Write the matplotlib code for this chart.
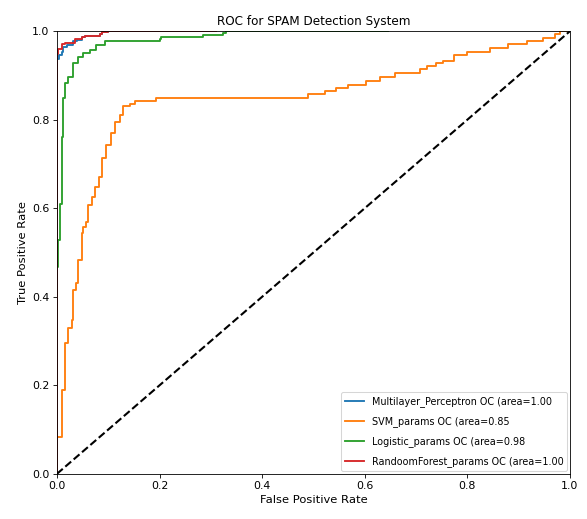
import matplotlib
matplotlib.use("Agg")
import matplotlib.pyplot as plt

# ROC points
mlp_fpr = [0.0, 0.0, 0.004, 0.009, 0.012, 0.019, 0.029, 0.032, 0.040, 0.048, 0.055, 0.084, 0.087, 0.10, 0.25]
mlp_tpr = [0.0, 0.937, 0.945, 0.953, 0.964, 0.968, 0.968, 0.977, 0.980, 0.986, 0.990, 0.994, 0.997, 1.0, 1.0]

svm_fpr = [0.0, 0.0, 0.001, 0.009, 0.016, 0.016, 0.022, 0.029, 0.032, 0.037, 0.042, 0.048,
           0.051, 0.057, 0.061, 0.068, 0.074, 0.082, 0.087, 0.096, 0.105, 0.113, 0.123,
           0.129, 0.142, 0.152, 0.194, 0.49, 0.522, 0.544, 0.568, 0.603, 0.63, 0.659,
           0.708, 0.721, 0.739, 0.753, 0.773, 0.799, 0.844, 0.88, 0.916, 0.948, 0.971,
           0.98, 1.0]
svm_tpr = [0.0, 0.016, 0.084, 0.19, 0.194, 0.296, 0.33, 0.348, 0.415, 0.43, 0.483, 0.544,
           0.558, 0.569, 0.607, 0.625, 0.648, 0.67, 0.713, 0.743, 0.77, 0.795, 0.81,
           0.831, 0.835, 0.843, 0.85, 0.858, 0.865, 0.871, 0.878, 0.887, 0.896, 0.906,
           0.914, 0.921, 0.927, 0.933, 0.947, 0.953, 0.963, 0.97, 0.978, 0.985, 0.994,
           1.0, 1.0]

lr_fpr = [0.0, 0.0, 0.003, 0.006, 0.009, 0.011, 0.016, 0.022, 0.032, 0.042, 0.051, 0.064,
          0.077, 0.094, 0.2, 0.203, 0.285, 0.324, 0.33, 0.645]
lr_tpr = [0.0, 0.468, 0.528, 0.61, 0.761, 0.848, 0.882, 0.897, 0.927, 0.942, 0.95, 0.957,
          0.968, 0.978, 0.983, 0.987, 0.991, 0.996, 1.0, 1.0]

rf_fpr = [0.0, 0.0, 0.002, 0.009, 0.016, 0.033, 0.035, 0.048, 0.055, 0.084, 0.087, 0.10, 0.31]
rf_tpr = [0.0, 0.949, 0.96, 0.971, 0.974, 0.974, 0.982, 0.986, 0.99, 0.994, 0.997, 1.0, 1.0]

names = ["Multilayer_Perceptron", "SVM_params", "Logistic_params", "RandoomForest_params"]
areas = [1.00, 0.85, 0.98, 1.00]

fig = plt.figure(figsize=(587 / 75, 519 / 75), dpi=75)
ax = fig.add_axes([0.097, 0.087, 0.874, 0.853])

curves = [(mlp_fpr, mlp_tpr), (svm_fpr, svm_tpr), (lr_fpr, lr_tpr), (rf_fpr, rf_tpr)]
for (f, t), n, a in zip(curves, names, areas):
    ax.plot(f, t, lw=1.8, drawstyle="steps-post", label="%s OC (area=%0.2f" % (n, a))

ax.plot([0, 1], [0, 1], "k--", lw=2)
ax.set_xlim(0.0, 1.0)
ax.set_ylim(0.0, 1.0)
ax.tick_params(labelsize=10.5)
ax.set_xlabel("False Positive Rate", fontsize=11)
ax.set_ylabel("True Positive Rate", fontsize=11)
ax.set_title("ROC for SPAM Detection System", fontsize=11.5)
ax.legend(loc="lower right", fontsize=9.2, labelspacing=0.95, borderaxespad=0.3)

fig.savefig("out.png", dpi=75)
